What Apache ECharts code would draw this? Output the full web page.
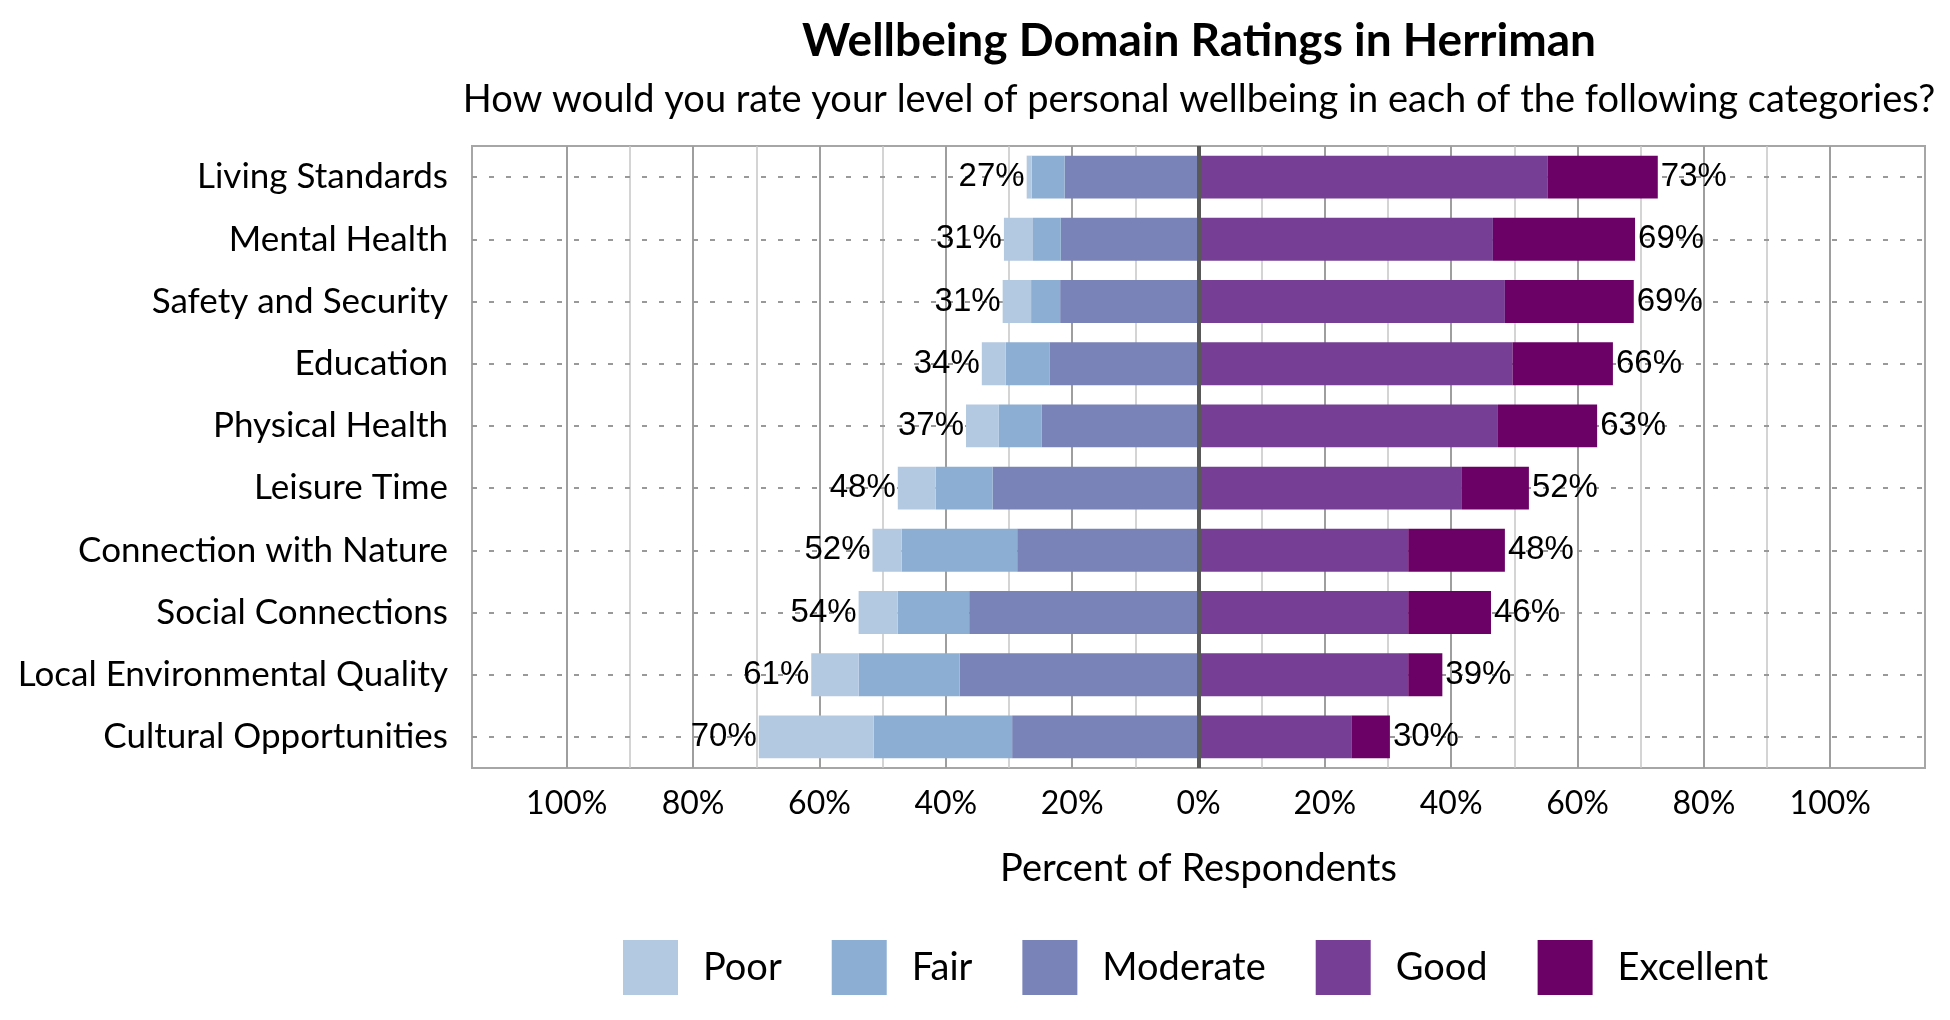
<!DOCTYPE html>
<html>
<head>
<meta charset="utf-8">
<title>Wellbeing Domain Ratings in Herriman</title>
<script src="https://cdn.jsdelivr.net/npm/echarts@6/dist/echarts.min.js"></script>
<style>
  html, body { margin: 0; padding: 0; background: #fff; }
  #main { width: 1950px; height: 1020px; }
</style>
</head>
<body>
<div id="main"></div>
<script>
var categories = ['Living Standards', 'Mental Health', 'Safety and Security', 'Education', 'Physical Health',
    'Leisure Time', 'Connection with Nature', 'Social Connections', 'Local Environmental Quality', 'Cultural Opportunities'];
// percent of respondents
var poor      = [0.8, 4.6, 4.5, 3.8, 5.2, 6.0, 4.6, 6.2, 7.5, 18.2];
var fair      = [5.2, 4.4, 4.6, 6.9, 6.8, 9.0, 18.3, 11.3, 16.0, 21.9];
var moderate  = [21.2, 21.8, 21.9, 23.6, 24.8, 32.6, 28.7, 36.3, 37.8, 29.5];
var good      = [55.3, 46.6, 48.5, 49.7, 47.4, 41.7, 33.2, 33.2, 33.2, 24.2];
var excellent = [17.4, 22.5, 20.4, 15.9, 15.7, 10.6, 15.3, 13.1, 5.4, 6.1];
// total labels printed at the bar ends
var lowTotals  = [27, 31, 31, 34, 37, 48, 52, 54, 61, 70];
var highTotals = [73, 69, 69, 66, 63, 52, 48, 46, 39, 30];
var majorTicks = [-100, -80, -60, -40, -20, 0, 20, 40, 60, 80, 100];
var minorTicks = [-90, -70, -50, -30, -10, 10, 30, 50, 70, 90];

var UI_FONT = 'Lato';
var LABEL_FONT = 'Liberation Sans';

var myChart = echarts.init(document.getElementById('main'));

function neg(arr) {
    return arr.map(function (v) { return -v; });
}

var barBase = {
    type: 'bar',
    stack: 'total',
    barWidth: '69%',
    animation: false
};

option = {
    backgroundColor: '#fff',
    graphic: [
        {
            type: 'text', x: 1199, y: 41,
            style: { text: 'Wellbeing Domain Ratings in Herriman', font: 'bold 46px ' + UI_FONT, fill: '#000', textAlign: 'center', textVerticalAlign: 'middle' }
        },
        {
            type: 'text', x: 1199, y: 100,
            style: { text: 'How would you rate your level of personal wellbeing in each of the following categories?', font: '38px ' + UI_FONT, fill: '#000', textAlign: 'center', textVerticalAlign: 'middle' }
        }
    ],
    legend: {
        left: 618,
        top: 935,
        icon: 'rect',
        itemWidth: 55,
        itemHeight: 55,
        itemGap: 50,
        data: ['Poor', 'Fair', 'Moderate', 'Good', 'Excellent'],
        textStyle: { fontFamily: UI_FONT, fontSize: 38, color: '#000', padding: [0, 0, 0, 20] }
    },
    grid: {
        left: 472,
        right: 25,
        top: 146,
        bottom: 252,
        show: true,
        borderColor: '#a6a6a6',
        borderWidth: 2
    },
    xAxis: [
        {
            type: 'value',
            min: -115,
            max: 115,
            name: 'Percent of Respondents',
            nameLocation: 'middle',
            nameGap: 82,
            nameTextStyle: { fontFamily: UI_FONT, fontSize: 38, color: '#000' },
            axisLine: { show: false },
            axisTick: { show: false, customValues: majorTicks },
            axisLabel: {
                customValues: majorTicks,
                margin: 20,
                fontFamily: UI_FONT,
                fontSize: 32,
                color: '#000',
                formatter: function (v) { return Math.abs(v) + '%'; }
            },
            splitLine: { show: true, lineStyle: { color: '#9e9e9e', width: 2 } }
        },
        {   // lighter grid lines at the odd tens
            type: 'value',
            min: -115,
            max: 115,
            position: 'top',
            axisLine: { show: false },
            axisTick: { show: false, customValues: minorTicks },
            axisLabel: { show: false, customValues: minorTicks },
            splitLine: { show: true, lineStyle: { color: '#c6c6c6', width: 1.5 } }
        }
    ],
    yAxis: {
        type: 'category',
        inverse: true,
        data: categories,
        axisLine: { show: false },
        axisTick: { show: false },
        axisLabel: { margin: 24, fontFamily: UI_FONT, fontSize: 35, color: '#000' },
        splitLine: { show: false }
    },
    series: [
        Object.assign({}, barBase, {
            name: 'Moderate',
            itemStyle: { color: '#7a83b8' },
            data: neg(moderate),
            markLine: {   // dotted guide line through every row
                silent: true,
                z: 1,
                symbol: 'none',
                label: { show: false },
                lineStyle: { color: '#999999', type: [5, 12], width: 2 },
                data: categories.map(function (c) { return { yAxis: c }; })
            }
        }),
        Object.assign({}, barBase, {
            name: 'Fair',
            itemStyle: { color: '#8caed2' },
            data: neg(fair)
        }),
        Object.assign({}, barBase, {
            name: 'Poor',
            itemStyle: { color: '#b3c9e1' },
            data: neg(poor),
            label: {
                show: true,
                position: 'left',
                distance: 2,
                fontFamily: LABEL_FONT,
                fontSize: 33,
                color: '#000',
                formatter: function (p) { return lowTotals[p.dataIndex] + '%'; }
            }
        }),
        Object.assign({}, barBase, {
            name: 'Good',
            itemStyle: { color: '#763f95' },
            data: good,
            markLine: {   // zero line
                silent: true,
                z: 6,
                symbol: 'none',
                label: { show: false },
                lineStyle: { color: '#595959', type: 'solid', width: 4 },
                data: [{ xAxis: 0 }]
            }
        }),
        Object.assign({}, barBase, {
            name: 'Excellent',
            itemStyle: { color: '#6b0066' },
            data: excellent,
            label: {
                show: true,
                position: 'right',
                distance: 3,
                fontFamily: LABEL_FONT,
                fontSize: 33,
                color: '#000',
                formatter: function (p) { return highTotals[p.dataIndex] + '%'; }
            }
        })
    ]
};

myChart.setOption(option);
</script>
</body>
</html>
